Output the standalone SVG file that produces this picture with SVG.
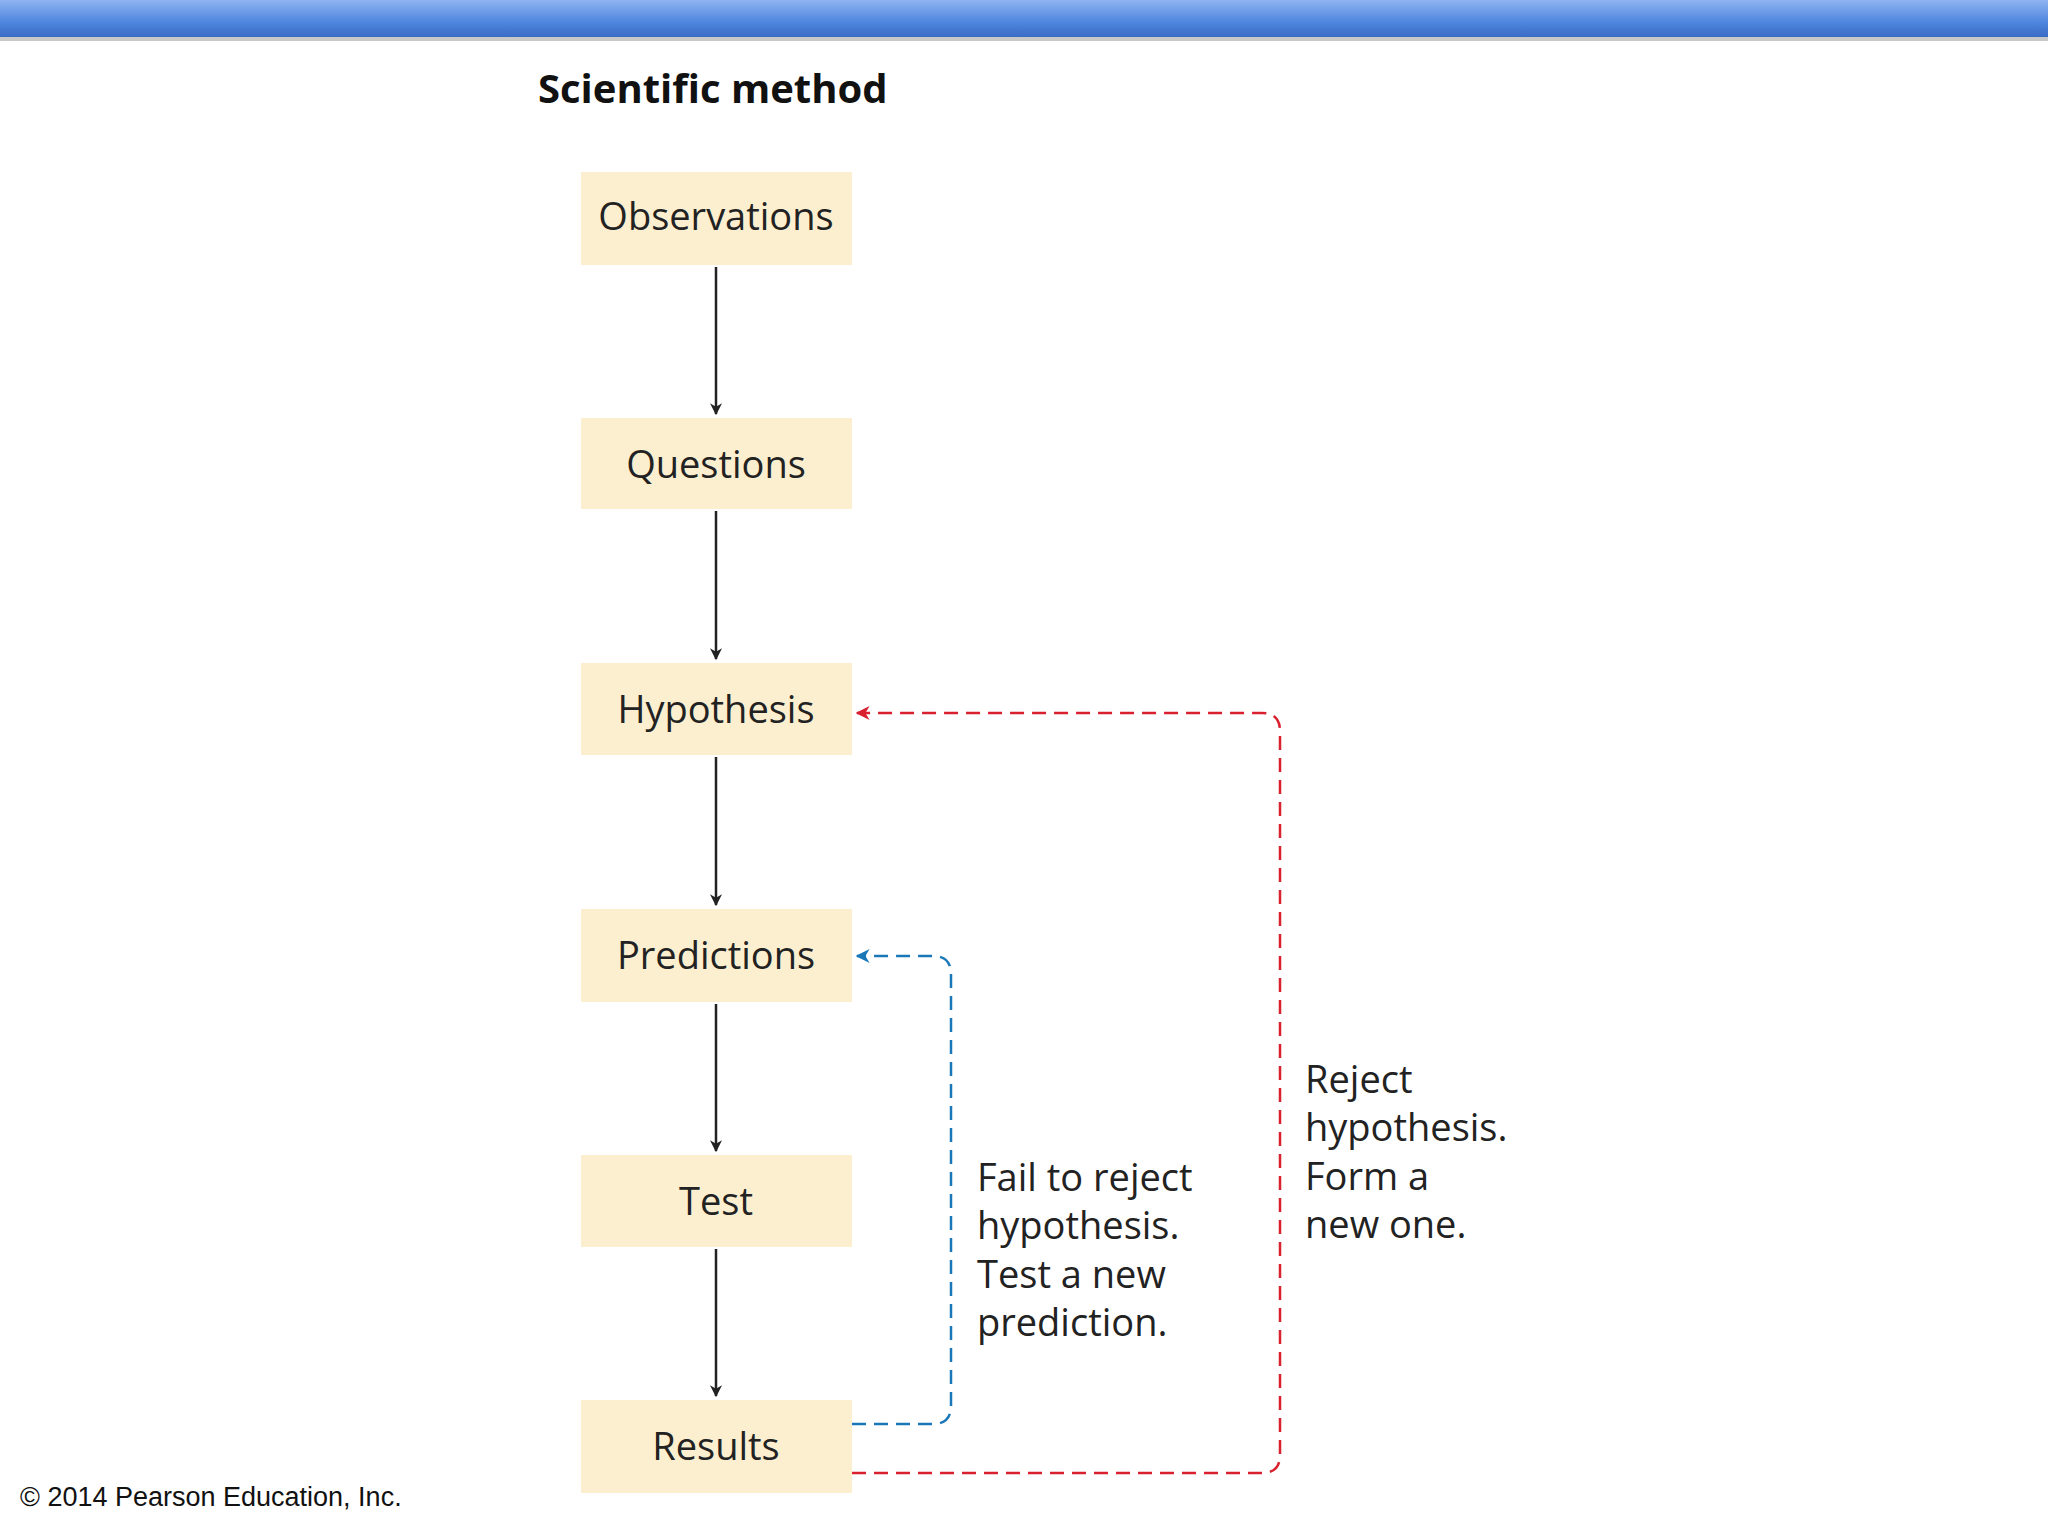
<svg xmlns="http://www.w3.org/2000/svg" width="2048" height="1536" viewBox="0 0 2048 1536">
<defs>
<linearGradient id="bar" x1="0" y1="0" x2="0" y2="1"><stop offset="0" stop-color="#8fb4f0"/><stop offset="0.6" stop-color="#4f86de"/><stop offset="1" stop-color="#3a6cc4"/></linearGradient>
<marker id="ak" viewBox="0 0 10 10" refX="9" refY="5" markerWidth="12" markerHeight="12" markerUnits="userSpaceOnUse" orient="auto"><path d="M0,0 L10,5 L0,10 L3,5 Z" fill="#222"/></marker>
<marker id="ar" viewBox="0 0 10 10" refX="9" refY="5" markerWidth="14" markerHeight="14" markerUnits="userSpaceOnUse" orient="auto"><path d="M0,0 L10,5 L0,10 L3,5 Z" fill="#d9202e"/></marker>
<marker id="ab" viewBox="0 0 10 10" refX="9" refY="5" markerWidth="14" markerHeight="14" markerUnits="userSpaceOnUse" orient="auto"><path d="M0,0 L10,5 L0,10 L3,5 Z" fill="#1a78b8"/></marker>
</defs>
<style>
.box{fill:#fcefcf}
.lbl{font-family:"Open Sans","DejaVu Sans",sans-serif;font-size:38px;fill:#222;text-anchor:middle}
.note{font-family:"Open Sans","DejaVu Sans",sans-serif;font-size:38px;fill:#222}
.ar{stroke:#222;stroke-width:2.5;fill:none;marker-end:url(#ak)}
</style>
<rect width="2048" height="1536" fill="#fff"/>
<rect x="0" y="0" width="2048" height="37" fill="url(#bar)"/>
<rect x="0" y="37" width="2048" height="4" fill="#c8c8c8"/>
<text x="538" y="103" font-family="'Open Sans','DejaVu Sans',sans-serif" font-weight="bold" font-size="40" fill="#111">Scientific method</text>
<g id="n1"><rect class="box" x="581" y="172" width="271" height="93"/><text class="lbl" x="716" y="230">Observations</text></g>
<g id="n2"><rect class="box" x="581" y="418" width="271" height="91"/><text class="lbl" x="716" y="478">Questions</text></g>
<g id="n3"><rect class="box" x="581" y="663" width="271" height="92"/><text class="lbl" x="716" y="723">Hypothesis</text></g>
<g id="n4"><rect class="box" x="581" y="909" width="271" height="93"/><text class="lbl" x="716" y="969">Predictions</text></g>
<g id="n5"><rect class="box" x="581" y="1155" width="271" height="92"/><text class="lbl" x="716" y="1215">Test</text></g>
<g id="n6"><rect class="box" x="581" y="1400" width="271" height="93"/><text class="lbl" x="716" y="1460">Results</text></g>
<g id="connectors">
<line class="ar" x1="716" y1="267" x2="716" y2="414"/>
<line class="ar" x1="716" y1="511" x2="716" y2="659"/>
<line class="ar" x1="716" y1="757" x2="716" y2="905"/>
<line class="ar" x1="716" y1="1004" x2="716" y2="1151"/>
<line class="ar" x1="716" y1="1249" x2="716" y2="1396"/>
<path d="M852,1473 H1262 Q1280,1473 1280,1455 V731 Q1280,713 1262,713 H857" fill="none" stroke="#d9202e" stroke-width="2.5" stroke-dasharray="14,8" marker-end="url(#ar)"/>
<path d="M852,1424 H933 Q951,1424 951,1406 V974 Q951,956 933,956 H857" fill="none" stroke="#1a78b8" stroke-width="2.5" stroke-dasharray="14,8" marker-end="url(#ab)"/>
</g>
<g id="t1"><text class="note" x="977" y="1191">Fail to reject</text><text class="note" x="977" y="1239">hypothesis.</text><text class="note" x="977" y="1288">Test a new</text><text class="note" x="977" y="1336">prediction.</text></g>
<g id="t2"><text class="note" x="1305" y="1093">Reject</text><text class="note" x="1305" y="1141">hypothesis.</text><text class="note" x="1305" y="1190">Form a</text><text class="note" x="1305" y="1238">new one.</text></g>
<text x="20" y="1506" font-family="'Liberation Sans',Arial,sans-serif" font-size="27" fill="#111">© 2014 Pearson Education, Inc.</text>
</svg>
